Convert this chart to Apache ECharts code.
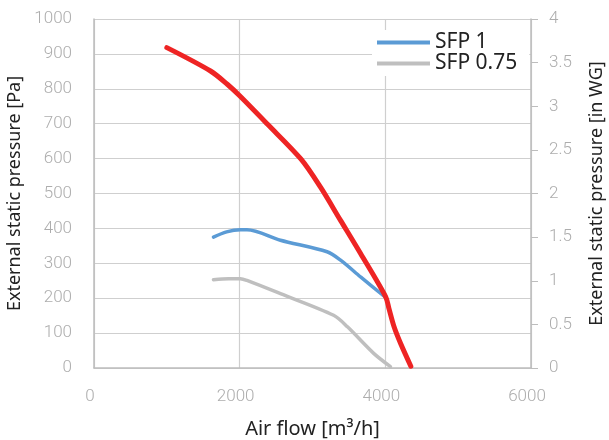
<!DOCTYPE html>
<html><head><meta charset="utf-8">
<script src="https://cdn.jsdelivr.net/npm/echarts@6/dist/echarts.min.js"></script>
<style>html,body{margin:0;padding:0;background:#fff}#c{width:609px;height:440px}</style>
</head><body><div id="c"></div>
<script>
// Fan curve (red), air flow m3/h vs pressure Pa
const fanCurve = [[1000,918],[1600,851],[1830,813],[2000,780],[2380,699],[2840,599],[3110,518],[3385,423],[3660,328],[4005,204],[4050,170],[4120,118],[4210,70],[4350,5]];
// SFP 1 (blue)
const sfp1 = [[1640,375],[1820,390],[2010,396],[2100,396],[2560,366],[3200,333],[3385,309],[3660,261],[4005,202]];
// SFP 0.75 (grey)
const sfp075 = [[1640,253],[1850,256],[2010,256],[2100,251],[2560,213],[3290,151],[3480,118],[3840,42],[4070,4]];
const seriesNames = ['Fan', 'SFP 1', 'SFP 0.75'];
const xName = 'Air flow [m³/h]';
const yLeftName = 'External static pressure [Pa]';
const yRightName = 'External static pressure [in WG]';

const labelStyle = {color:'#adadad', fontFamily:'Roboto', fontWeight:300, fontSize:17, formatter: v => String(v)};
const nameStyle = {color:'#222', fontFamily:'Noto Sans', fontSize:18};
const chart = echarts.init(document.getElementById('c'), null, {renderer:'canvas'});
chart.setOption({
  animation:false,
  grid:{left:94,right:78,top:19,bottom:72, containLabel:false, outerBoundsMode:'none'},
  legend:{
    data:[{name:'SFP 1', icon:'rect'},{name:'SFP 0.75', icon:'rect'}], orient:'vertical', left:372, top:30,
    backgroundColor:'#fff', padding:[2,12,2,5], itemWidth:53, itemHeight:4, itemGap:0,
    textStyle:{color:'#222', fontFamily:'Noto Sans', fontSize:21, lineHeight:21}
  },
  xAxis:{type:'value', min:0, max:6000, interval:2000,
    name:xName, nameLocation:'middle', nameGap:51, nameTextStyle:Object.assign({}, nameStyle, {fontSize:20}),
    axisLine:{show:true, lineStyle:{color:'#bdbdbd', width:1.5}},
    axisTick:{show:false},
    axisLabel:Object.assign({margin:20, padding:[0,8,0,0]}, labelStyle),
    splitLine:{show:true, lineStyle:{color:'#cfcfcf', width:1.2}}
  },
  yAxis:[
    {type:'value', min:0, max:1000, interval:100, position:'left',
     name:yLeftName, nameLocation:'middle', nameGap:68, nameTextStyle:nameStyle,
     axisLine:{show:true, lineStyle:{color:'#bdbdbd', width:1.5}},
     axisTick:{show:false},
     axisLabel:Object.assign({margin:22}, labelStyle),
     splitLine:{show:true, lineStyle:{color:'#cfcfcf', width:1.2}}
    },
    {type:'value', min:0, max:4, interval:0.5, position:'right',
     name:yRightName, nameLocation:'middle', nameGap:57, nameTextStyle:nameStyle,
     axisLine:{show:true, lineStyle:{color:'#bdbdbd', width:1.5}},
     axisTick:{show:true, length:7, lineStyle:{color:'#bdbdbd'}},
     axisLabel:Object.assign({margin:18}, labelStyle),
     splitLine:{show:false}
    }
  ],
  series:[
    {name:seriesNames[0], type:'line', data:fanCurve, smooth:0.3, symbol:'none',
     lineStyle:{color:'#ee2424', width:5, cap:'round'}, itemStyle:{color:'#ee2424'}, z:5},
    {name:seriesNames[1], type:'line', data:sfp1, smooth:0.3, symbol:'none',
     lineStyle:{color:'#5b9bd5', width:3.5, cap:'round'}, itemStyle:{color:'#5b9bd5'}, z:4},
    {name:seriesNames[2], type:'line', data:sfp075, smooth:0.3, symbol:'none',
     lineStyle:{color:'#bfbfbf', width:3.5, cap:'round'}, itemStyle:{color:'#bfbfbf'}, z:3}
  ]
});
</script></body></html>
